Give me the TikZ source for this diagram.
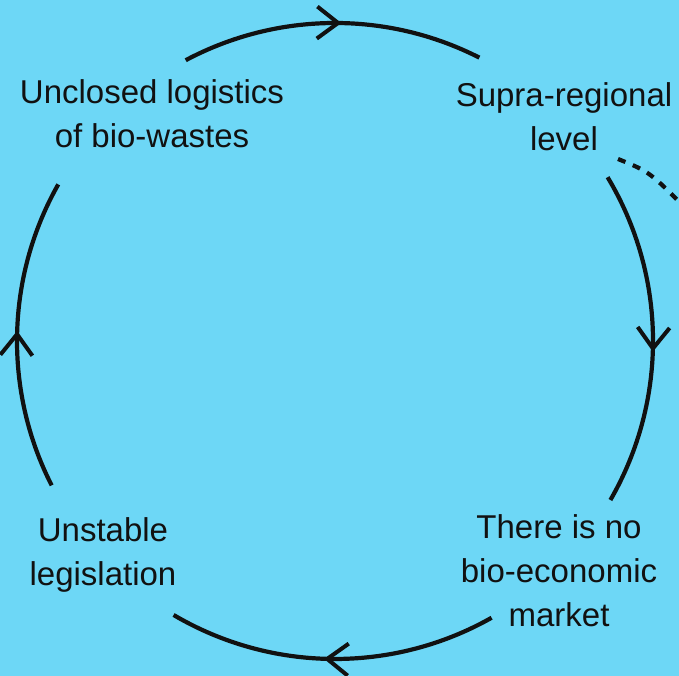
\documentclass[tikz,border=0pt]{standalone}
\usepackage{fontspec}
\setmainfont{Liberation Sans}
\usetikzlibrary{arrows.meta,decorations.markings}
\definecolor{bgblue}{RGB}{109,215,246}
\definecolor{ink}{RGB}{17,17,17}
\tikzset{
  lbl/.style={inner sep=0pt, align=center, anchor=base, text=ink,
    font=\fontsize{33}{44}\selectfont},
  cyc/.style={line width=4.2pt, draw=ink, postaction={decorate},
    decoration={markings, mark=at position #1 with {\arrow[line width=4pt]{Straight Barb[length=21pt,width=32pt]}}}},
  cyc/.default=0.53,
  dotted link/.style={line width=4.2pt, draw=ink, dash pattern=on 8pt off 8pt}
}
\begin{document}
\begin{tikzpicture}[x=1pt,y=1pt]
\fill[bgblue] (0,0) rectangle (679,676);
\useasboundingbox (0,0) rectangle (679,676);
\clip (0,0) rectangle (679,676);
\coordinate (c) at (335,335);
\node[lbl] (ul) at (152,528) {Unclosed logistics\\of bio-wastes};
\node[lbl] (sr) at (564,525) {Supra-regional\\level};
\node[lbl] (bm) at (559,49) {There is no\\bio-economic\\market};
\node[lbl] (ug) at (103,90) {Unstable\\legislation};
\draw[cyc=0.53] ([shift={(118:318)}]c) arc[start angle=118, end angle=63, radius=318];
\draw[cyc=0.54] ([shift={(31:318)}]c) arc[start angle=31, end angle=-30, radius=318];
\draw[cyc=0.525] ([shift={(-60.5:318)}]c) arc[start angle=-60.5, end angle=-120.5, radius=318];
\draw[cyc=0.51] ([shift={(207:318)}]c) arc[start angle=207, end angle=150.5, radius=318];
\coordinate (d0) at (618,517);
\coordinate (d1) at (690,463);
\draw[dotted link] (d0) .. controls (650,504) .. (d1);
\end{tikzpicture}
\end{document}
